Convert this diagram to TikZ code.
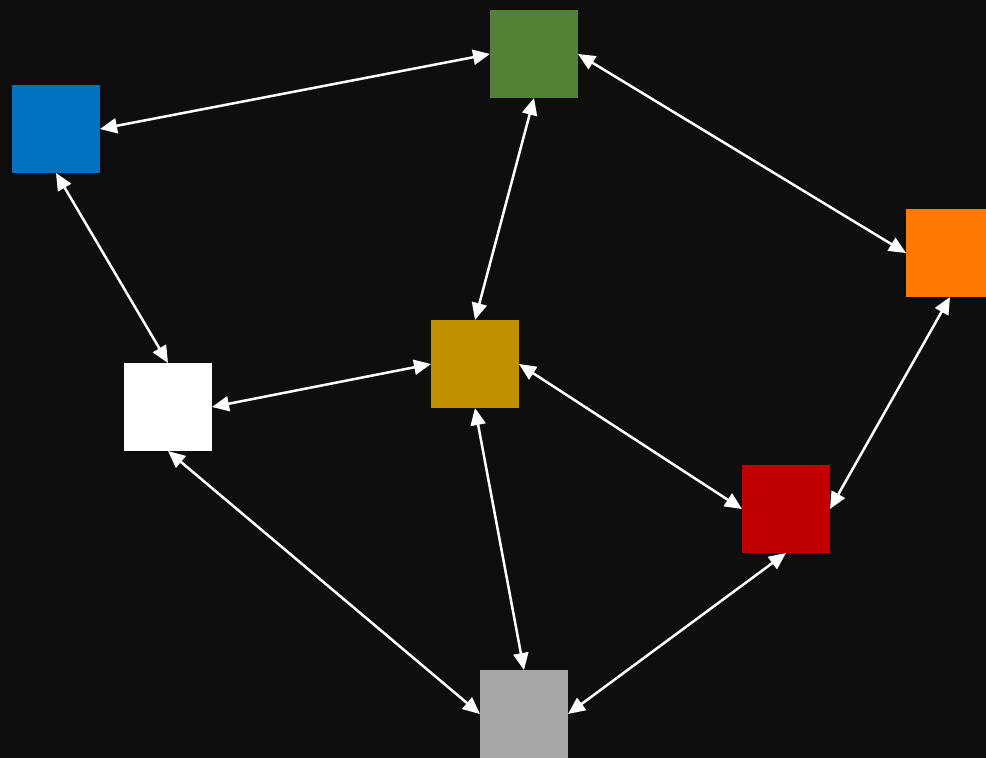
\documentclass[tikz,border=0pt]{standalone}
\usetikzlibrary{arrows.meta}
\definecolor{bg}{HTML}{0E0E0E}
\definecolor{cgreen}{HTML}{548235}
\definecolor{cblue}{HTML}{0070C0}
\definecolor{corange}{HTML}{FF7A00}
\definecolor{cgold}{HTML}{BF9000}
\definecolor{cred}{HTML}{C00000}
\definecolor{cgray}{HTML}{A6A6A6}
\tikzset{
  sq/.style={draw=none, minimum width=88pt, minimum height=88pt, inner sep=0pt, outer sep=0pt},
  link/.style={draw=white, line width=2.5pt, {Triangle[length=17pt,width=15pt]}-{Triangle[length=17pt,width=15pt]}, shorten <=0pt, shorten >=0pt}
}
\begin{document}
\begin{tikzpicture}[x=1pt,y=-1pt]
\fill[bg] (0,0) rectangle (986,758);
\useasboundingbox (0,0) rectangle (986,758);
\node[sq, fill=cgreen] (green) at (534,54) {};
\node[sq, fill=cblue] (blue) at (56,129) {};
\node[sq, fill=corange] (orange) at (950,253) {};
\node[sq, fill=cgold] (gold) at (475,364) {};
\node[sq, fill=white] (wht) at (168,407) {};
\node[sq, fill=cred] (red) at (786,509) {};
\node[sq, fill=cgray] (gray) at (524,714) {};
\draw[link] (blue.east) -- (green.west);
\draw[link] (green.south) -- (gold.north);
\draw[link] (green.east) -- (orange.west);
\draw[link] (blue.south) -- (wht.north);
\draw[link] (wht.east) -- (gold.west);
\draw[link] (gold.east) -- (red.west);
\draw[link] (orange.south) -- (red.east);
\draw[link] (wht.south) -- (gray.west);
\draw[link] (gold.south) -- (gray.north);
\draw[link] (red.south) -- (gray.east);
\end{tikzpicture}
\end{document}
